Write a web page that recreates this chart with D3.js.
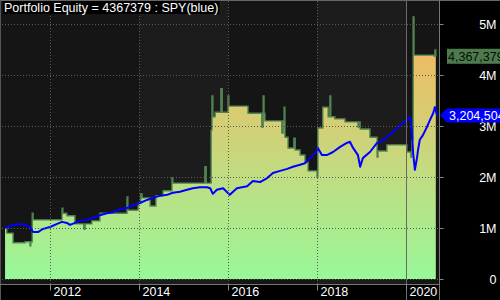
<!DOCTYPE html>
<html>
<head>
<meta charset="utf-8">
<script src="https://cdn.jsdelivr.net/npm/d3@7"></script>
<style>
body { margin: 0; background: #000; }
svg { display: block; font-family: "Liberation Sans", Arial, sans-serif; }
</style>
</head>
<body>
<div id="chart"></div>
<script>
// portfolio equity, in millions, by decimal year (step plot)
var equityYears = [2010.99, 2011.03, 2011.17, 2011.44, 2011.55, 2011.57, 2011.60, 2011.62, 2012.27, 2012.29,
    2012.38, 2012.56, 2012.76, 2012.79, 2012.94, 2013.12, 2013.73, 2013.75, 2013.98, 2014.04,
    2014.07, 2014.25, 2014.38, 2014.54, 2014.74, 2014.76, 2015.48, 2015.51, 2015.62, 2015.64,
    2015.66, 2015.71, 2015.84, 2015.87, 2016.00, 2016.02, 2016.45, 2016.76, 2016.79, 2016.81,
    2016.83, 2017.21, 2017.24, 2017.26, 2017.28, 2017.35, 2017.48, 2017.51, 2017.62, 2017.73,
    2017.80, 2018.00, 2018.02, 2018.13, 2018.25, 2018.29, 2018.31, 2018.40, 2018.63, 2018.92,
    2018.94, 2018.97, 2019.19, 2019.35, 2019.37, 2019.57, 2020.02, 2020.11, 2020.13, 2020.16,
    2020.18, 2020.63, 2020.65, 2020.67];
var equityValues = [1.00, 0.90, 0.71, 0.73, 0.65, 0.73, 1.29, 1.16, 1.39, 1.29,
    1.24, 1.08, 0.98, 1.08, 1.14, 1.29, 1.61, 1.35, 1.49, 1.67,
    1.59, 1.43, 1.63, 1.73, 1.98, 1.88, 2.20, 1.88, 2.92, 3.59,
    3.18, 3.27, 3.73, 3.27, 3.59, 3.39, 3.25, 2.98, 3.59, 3.25,
    3.10, 2.86, 3.10, 3.37, 2.78, 2.57, 2.76, 2.53, 2.43, 2.29,
    2.12, 2.00, 2.96, 3.37, 3.18, 3.59, 3.18, 3.14, 3.08, 2.98,
    3.08, 2.94, 2.78, 2.39, 2.51, 2.63, 2.49, 2.39, 2.73, 5.14,
    4.39, 4.37, 4.49, 4.37];

// SPY scaled to the same start capital, in millions
var spyYears = [2010.99, 2011.10, 2011.33, 2011.44, 2011.55, 2011.62, 2011.73, 2011.84, 2012.00, 2012.16,
    2012.27, 2012.38, 2012.45, 2012.56, 2012.67, 2012.83, 2012.97, 2013.12, 2013.28, 2013.42,
    2013.57, 2013.73, 2013.87, 2014.02, 2014.18, 2014.31, 2014.47, 2014.63, 2014.76, 2014.92,
    2015.08, 2015.21, 2015.37, 2015.53, 2015.60, 2015.66, 2015.75, 2015.89, 2016.04, 2016.20,
    2016.43, 2016.56, 2016.72, 2016.88, 2017.01, 2017.17, 2017.33, 2017.46, 2017.62, 2017.73,
    2017.84, 2017.96, 2018.02, 2018.11, 2018.22, 2018.36, 2018.52, 2018.67, 2018.74, 2018.81,
    2018.92, 2018.97, 2019.03, 2019.19, 2019.35, 2019.42, 2019.57, 2019.71, 2019.87, 2019.98,
    2020.09, 2020.13, 2020.16, 2020.20, 2020.25, 2020.27, 2020.31, 2020.38, 2020.47, 2020.54,
    2020.61, 2020.65, 2020.70];
var spyValues = [1.00, 1.04, 1.08, 1.06, 1.02, 0.92, 0.92, 0.98, 1.02, 1.08,
    1.12, 1.10, 1.06, 1.10, 1.14, 1.16, 1.20, 1.25, 1.29, 1.31,
    1.37, 1.39, 1.45, 1.49, 1.55, 1.59, 1.63, 1.65, 1.69, 1.71,
    1.75, 1.78, 1.80, 1.80, 1.78, 1.67, 1.75, 1.78, 1.65, 1.78,
    1.82, 1.92, 1.90, 1.98, 2.08, 2.12, 2.16, 2.20, 2.24, 2.27,
    2.37, 2.47, 2.57, 2.43, 2.43, 2.49, 2.59, 2.67, 2.69, 2.57,
    2.43, 2.20, 2.37, 2.49, 2.67, 2.69, 2.78, 2.88, 3.02, 3.08,
    3.18, 2.92, 2.47, 2.14, 2.39, 2.53, 2.73, 2.82, 2.98, 3.12,
    3.25, 3.37, 3.20];

var yearTicks = [2012, 2014, 2016, 2018, 2020];
var valueTicks = [0, 1, 2, 3, 4, 5];
var lastEquity = 4367379;
var lastSpy = 3204504;
var titleText = "Portfolio Equity = 4367379 : SPY(blue)";

var width = 500, height = 300;
var plot = {left: 1, right: 439, top: 1, bottom: 284};

var svg = d3.select("#chart").append("svg")
    .attr("width", width)
    .attr("height", height);

svg.append("rect").attr("width", width).attr("height", height).attr("fill", "#000");

var x = d3.scaleLinear().domain([2012, 2020]).range([50, 406]);
var y = d3.scaleLinear().domain([0, 5]).range([279, 24]);

// plot background, alternating shade between the year grid lines
svg.append("rect")
    .attr("x", plot.left).attr("y", plot.top)
    .attr("width", plot.right - plot.left).attr("height", plot.bottom - plot.top)
    .attr("fill", "#151515");

var edges = [x.invert(plot.left)].concat(yearTicks.slice(1)).concat([x.invert(plot.right)]);
for (var i = 0; i < edges.length - 1; i++) {
    svg.append("rect")
        .attr("x", x(edges[i])).attr("y", plot.top)
        .attr("width", x(edges[i + 1]) - x(edges[i])).attr("height", plot.bottom - plot.top)
        .attr("fill", i % 2 ? "#1c1c1c" : "#151515");
}

var defs = svg.append("defs");
var grad = defs.append("linearGradient")
    .attr("id", "eqFill")
    .attr("gradientUnits", "userSpaceOnUse")
    .attr("x1", 0).attr("x2", 0)
    .attr("y1", y(0)).attr("y2", y(5));
grad.append("stop").attr("offset", 0).attr("stop-color", "#98f898");
grad.append("stop").attr("offset", 0.5).attr("stop-color", "#cad67c");
grad.append("stop").attr("offset", 1).attr("stop-color", "#f8b45c");

defs.append("clipPath").attr("id", "plotClip")
    .append("rect")
    .attr("x", plot.left).attr("y", plot.top)
    .attr("width", plot.right - plot.left).attr("height", plot.bottom - plot.top);

var equity = equityYears.map(function (d, i) { return {t: d, v: equityValues[i]}; });
var spy = spyYears.map(function (d, i) { return {t: d, v: spyValues[i]}; });

var g = svg.append("g").attr("clip-path", "url(#plotClip)");

g.append("path")
    .datum(equity)
    .attr("fill", "url(#eqFill)")
    .attr("d", d3.area().curve(d3.curveStepAfter)
        .x(function (d) { return x(d.t); })
        .y0(y(0))
        .y1(function (d) { return y(d.v); }));

g.append("path")
    .datum(equity)
    .attr("fill", "none")
    .attr("stroke", "#4f8350")
    .attr("stroke-width", 1.4)
    .attr("d", d3.line().curve(d3.curveStepAfter)
        .x(function (d) { return x(d.t); })
        .y(function (d) { return y(d.v); }));

// dotted grid
valueTicks.forEach(function (v) {
    svg.append("line")
        .attr("x1", plot.left + 1).attr("x2", plot.right)
        .attr("y1", Math.round(y(v)) + 0.5).attr("y2", Math.round(y(v)) + 0.5)
        .attr("stroke", "#5a5a5a").attr("stroke-dasharray", "1,2");
});
yearTicks.slice(0, -1).forEach(function (t) {
    svg.append("line")
        .attr("x1", Math.round(x(t)) + 0.5).attr("x2", Math.round(x(t)) + 0.5)
        .attr("y1", plot.top).attr("y2", plot.bottom)
        .attr("stroke", "#5a5a5a").attr("stroke-dasharray", "1,2");
});

// selected bar line
var lastTick = yearTicks[yearTicks.length - 1];
svg.append("line")
    .attr("x1", Math.round(x(lastTick)) + 0.5).attr("x2", Math.round(x(lastTick)) + 0.5)
    .attr("y1", 0).attr("y2", height)
    .attr("stroke", "#6a6a6a");

g.append("path")
    .datum(spy)
    .attr("fill", "none")
    .attr("stroke", "#0000ff")
    .attr("stroke-width", 2)
    .attr("stroke-linejoin", "round")
    .attr("d", d3.line()
        .x(function (d) { return x(d.t); })
        .y(function (d) { return y(d.v); }));

// frame
svg.append("line").attr("x1", 0.5).attr("x2", 0.5).attr("y1", 0).attr("y2", height).attr("stroke", "#555");
svg.append("line").attr("x1", 0).attr("x2", width).attr("y1", 0.5).attr("y2", 0.5).attr("stroke", "#666");
svg.append("line").attr("x1", 0).attr("x2", plot.right).attr("y1", plot.bottom + 0.5).attr("y2", plot.bottom + 0.5).attr("stroke", "#777");
svg.append("line").attr("x1", plot.right + 0.5).attr("x2", plot.right + 0.5).attr("y1", 0).attr("y2", height).attr("stroke", "#777");

// x axis
var xAxis = svg.append("g")
    .attr("transform", "translate(0," + (plot.bottom + 0.5) + ")")
    .call(d3.axisBottom(x).tickValues(yearTicks).tickFormat(d3.format("d")).tickSize(6));
xAxis.attr("font-family", null).attr("font-size", null);
xAxis.select(".domain").remove();
xAxis.selectAll(".tick line").attr("stroke", "#888");
xAxis.selectAll(".tick text")
    .attr("fill", "#fff")
    .attr("font-size", 12.5)
    .attr("text-anchor", "start")
    .attr("x", 3)
    .attr("y", 2.5);

// y axis
var yAxis = svg.append("g")
    .attr("transform", "translate(" + (plot.right + 0.5) + ",0)")
    .call(d3.axisRight(y).tickValues(valueTicks)
        .tickFormat(function (d) { return d === 0 ? "0" : d + "M"; })
        .tickSize(4));
yAxis.attr("font-family", null).attr("font-size", null);
yAxis.select(".domain").remove();
yAxis.selectAll(".tick line").attr("stroke", "#888");
yAxis.selectAll(".tick text")
    .attr("fill", "#fff")
    .attr("font-size", 12.5)
    .attr("text-anchor", "end")
    .attr("x", 57);

// last value markers
var fmt = d3.format(",");
var ye = y(lastEquity / 1e6);
svg.append("rect")
    .attr("x", 447).attr("y", ye - 7.5)
    .attr("width", 60).attr("height", 15)
    .attr("fill", "#4c7c4c");
svg.append("text")
    .attr("x", 448).attr("y", ye).attr("dy", "0.36em")
    .attr("font-size", 12.5).attr("fill", "#0a0a0a")
    .text(fmt(lastEquity));

var ys = y(lastSpy / 1e6);
svg.append("path")
    .attr("d", "M440," + ys + "L447," + (ys - 7) + "L505," + (ys - 7) + "L505," + (ys + 7) + "L447," + (ys + 7) + "Z")
    .attr("fill", "#0000ff");
svg.append("text")
    .attr("x", 449).attr("y", ys).attr("dy", "0.36em")
    .attr("font-size", 12.5).attr("fill", "#fff")
    .text(fmt(lastSpy));

// title on a black box
var titleBox = svg.append("rect").attr("fill", "#000");
var title = svg.append("text")
    .attr("x", 4).attr("y", 12)
    .attr("font-size", 12.5).attr("fill", "#fff")
    .text(titleText);
var bb = title.node().getBBox();
titleBox
    .attr("x", bb.x - 1).attr("y", 1)
    .attr("width", bb.width + 2).attr("height", 13);
</script>
</body>
</html>
